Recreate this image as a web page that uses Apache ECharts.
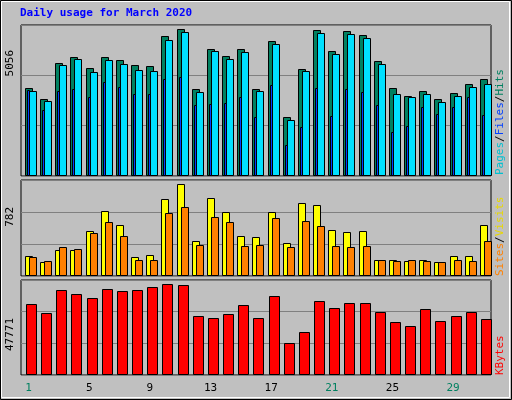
<!DOCTYPE html>
<html><head><meta charset="utf-8">
<script src="https://cdn.jsdelivr.net/npm/echarts@6/dist/echarts.min.js"></script>
<style>html,body{margin:0;padding:0;background:#c0c0c0}#c{width:512px;height:400px}</style>
</head><body><div id="c"></div>
<script>
const days = ['1','2','3','4','5','6','7','8','9','10','11','12','13','14','15','16','17','18','19','20','21','22','23','24','25','26','27','28','29','30','31'];
const weekend = [1,7,8,14,15,21,22,28,29];
const hits = [2937,2570,3775,3976,3607,3976,3875,3708,3674,4679,4914,2904,4243,4009,4243,2904,4512,1966,3574,4880,4176,4846,4712,3842,2937,2669,2837,2570,2770,3071,3239];
const files = [2837,2502,3708,3909,3473,3875,3741,3540,3507,4545,4813,2803,4176,3909,4143,2837,4411,1866,3507,4780,4076,4746,4612,3741,2736,2636,2736,2469,2669,2971,3071];
const pages = [2870,2200,2837,2904,2636,3138,2971,2736,2736,3239,3306,2368,2401,2435,2636,1966,3038,1028,1631,2937,2000,2904,2803,2368,1464,1665,2301,2067,2301,2636,2033];
const visits = [165,114,212,212,367,530,416,155,171,628,750,285,636,522,326,318,522,269,595,579,375,359,367,130,130,122,130,114,163,163,416];
const sites = [155,122,236,220,350,440,326,130,130,513,562,253,481,440,245,253,473,236,448,408,245,236,245,130,122,130,122,114,130,122,285];
const kbytes = [35700,31180,42740,40730,38720,43240,42240,42740,44250,45760,45250,29670,28660,30670,35200,28660,39720,16090,21620,37210,33690,36200,36200,31680,26650,24640,33190,27150,29670,31680,28160];
const maxTop = 5056, maxMid = 782, maxBot = 47771;

const chart = echarts.init(document.getElementById('c'));
function barSeries(data, idx, color, offset, width) {
  return {
    type: 'custom', xAxisIndex: idx, yAxisIndex: idx, data: data.map((v,i)=>[i,v]),
    renderItem: function(params, api) {
      const top = api.coord([api.value(0), api.value(1)]);
      const base = api.coord([api.value(0), 0]);
      const slot = api.size([1, 0])[0];
      const x0 = top[0] - slot/2 + offset;
      return {type:'rect', shape:{x:Math.round(x0)+0.5, y:Math.round(top[1])+0.5, width:width, height:Math.round(base[1]-top[1])-1},
        style:{fill:color, stroke:'#000', lineWidth:1}};
    }
  };
}
const grids = [
  {left:21, right:21, top:25, height:151},
  {left:21, right:21, top:180, height:96},
  {left:21, right:21, top:280, height:95}
];
const maxes = [maxTop, maxMid, maxBot];
const mono = 'DejaVu Sans Mono';
chart.setOption({
  backgroundColor:'#c0c0c0',
  animation:false,
  grid: grids.map(g=>Object.assign({show:true, backgroundColor:'#c0c0c0', borderColor:'#000', borderWidth:1}, g)),
  xAxis: grids.map((g,i)=>({type:'category', gridIndex:i, data:days, boundaryGap:true,
    axisLine:{show:false}, axisTick:{show:false},
    axisLabel: i===2 ? {show:true, margin:8, fontFamily:mono, fontSize:11,
      formatter:(v)=> weekend.includes(+v) ? '{w|'+v+'}' : '{d|'+v+'}',
      rich:{w:{color:'#008060',fontFamily:mono,fontSize:11}, d:{color:'#000',fontFamily:mono,fontSize:11}}} : {show:false}})),
  yAxis: maxes.map((m,i)=>({type:'value', gridIndex:i, min:0, max:m, interval:m/3,
    axisLine:{show:false}, axisTick:{show:false}, axisLabel:{show:false},
    splitLine:{show:true, lineStyle:{color:'#808080', width:1}}})),
  graphic: [
    {type:'rect', shape:{x:0.5,y:0.5,width:511,height:399}, style:{fill:'none', stroke:'#000', lineWidth:1}, z:-1},
    {type:'rect', shape:{x:1.5,y:1.5,width:508,height:396}, style:{fill:'none', stroke:'#fff', lineWidth:1}, z:-1},
    {type:'text', left:20, top:8, style:{text:'Daily usage for March 2020', fill:'#0000ff', font:'bold 11px "DejaVu Sans Mono"'}},
    {type:'text', x:5, y:50, rotation:Math.PI/2, style:{text:'5056', fill:'#000', font:'11px "DejaVu Sans Mono"', align:'right', verticalAlign:'top'}},
    {type:'text', x:5, y:207, rotation:Math.PI/2, style:{text:'782', fill:'#000', font:'11px "DejaVu Sans Mono"', align:'right', verticalAlign:'top'}},
    {type:'text', x:5, y:318, rotation:Math.PI/2, style:{text:'47771', fill:'#000', font:'11px "DejaVu Sans Mono"', align:'right', verticalAlign:'top'}},
    {type:'text', x:495, y:175, rotation:Math.PI/2, style:{text:'{p|Pages}{s|/}{f|Files}{s|/}{h|Hits}', align:'left', verticalAlign:'top',
      rich:{p:{fill:'#00c0d0',font:'11px "DejaVu Sans Mono"'}, f:{fill:'#0040ff',font:'11px "DejaVu Sans Mono"'}, h:{fill:'#008060',font:'11px "DejaVu Sans Mono"'}, s:{fill:'#000',font:'11px "DejaVu Sans Mono"'}}}},
    {type:'text', x:495, y:276, rotation:Math.PI/2, style:{text:'{a|Sites}{s|/}{b|Visits}', align:'left', verticalAlign:'top',
      rich:{a:{fill:'#ff8000',font:'11px "DejaVu Sans Mono"'}, b:{fill:'#e8d800',font:'11px "DejaVu Sans Mono"'}, s:{fill:'#000',font:'11px "DejaVu Sans Mono"'}}}},
    {type:'text', x:495, y:375, rotation:Math.PI/2, style:{text:'KBytes', fill:'#ff0000', font:'11px "DejaVu Sans Mono"', align:'left', verticalAlign:'top'}}
  ],
  series: [
    barSeries(hits, 0, '#008060', 4, 7),
    barSeries(files, 0, '#00e0ff', 8, 7),
    barSeries(pages, 0, '#0040ff', 6, 2),
    barSeries(visits, 1, '#ffff00', 4, 7),
    barSeries(sites, 1, '#ff8000', 8, 7),
    barSeries(kbytes, 2, '#ff0000', 5, 10)
  ]
});
</script></body></html>
